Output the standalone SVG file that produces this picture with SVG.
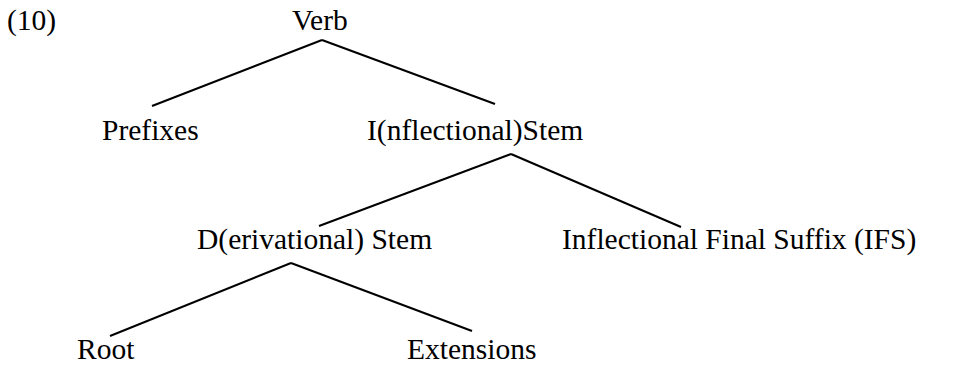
<svg xmlns="http://www.w3.org/2000/svg" width="962" height="367" viewBox="0 0 962 367">
<style>
text{font-family:"Liberation Serif","Times New Roman",serif;font-size:29.5px;fill:#000}
.c line{stroke:#000;stroke-width:2;stroke-linecap:butt}
</style>
<rect width="962" height="367" fill="#fff"/>
<g id="label10"><text x="7" y="30">(10)</text></g>
<g id="verb"><text x="292" y="30">Verb</text></g>
<g id="prefixes"><text x="102" y="140">Prefixes</text></g>
<g id="istem"><text x="367" y="140">I(nflectional)Stem</text></g>
<g id="dstem"><text x="197" y="249">D(erivational) Stem</text></g>
<g id="ifs"><text x="562" y="249">Inflectional Final Suffix (IFS)</text></g>
<g id="root"><text x="77" y="359">Root</text></g>
<g id="extensions"><text x="407" y="359">Extensions</text></g>
<g id="connectors" class="c">
<line x1="322" y1="40" x2="152" y2="106"/>
<line x1="322" y1="40" x2="495" y2="104"/>
<line x1="511" y1="154" x2="319" y2="226"/>
<line x1="511" y1="154" x2="681" y2="227"/>
<line x1="291" y1="263" x2="110" y2="336"/>
<line x1="291" y1="263" x2="472" y2="331"/>
</g>
</svg>
